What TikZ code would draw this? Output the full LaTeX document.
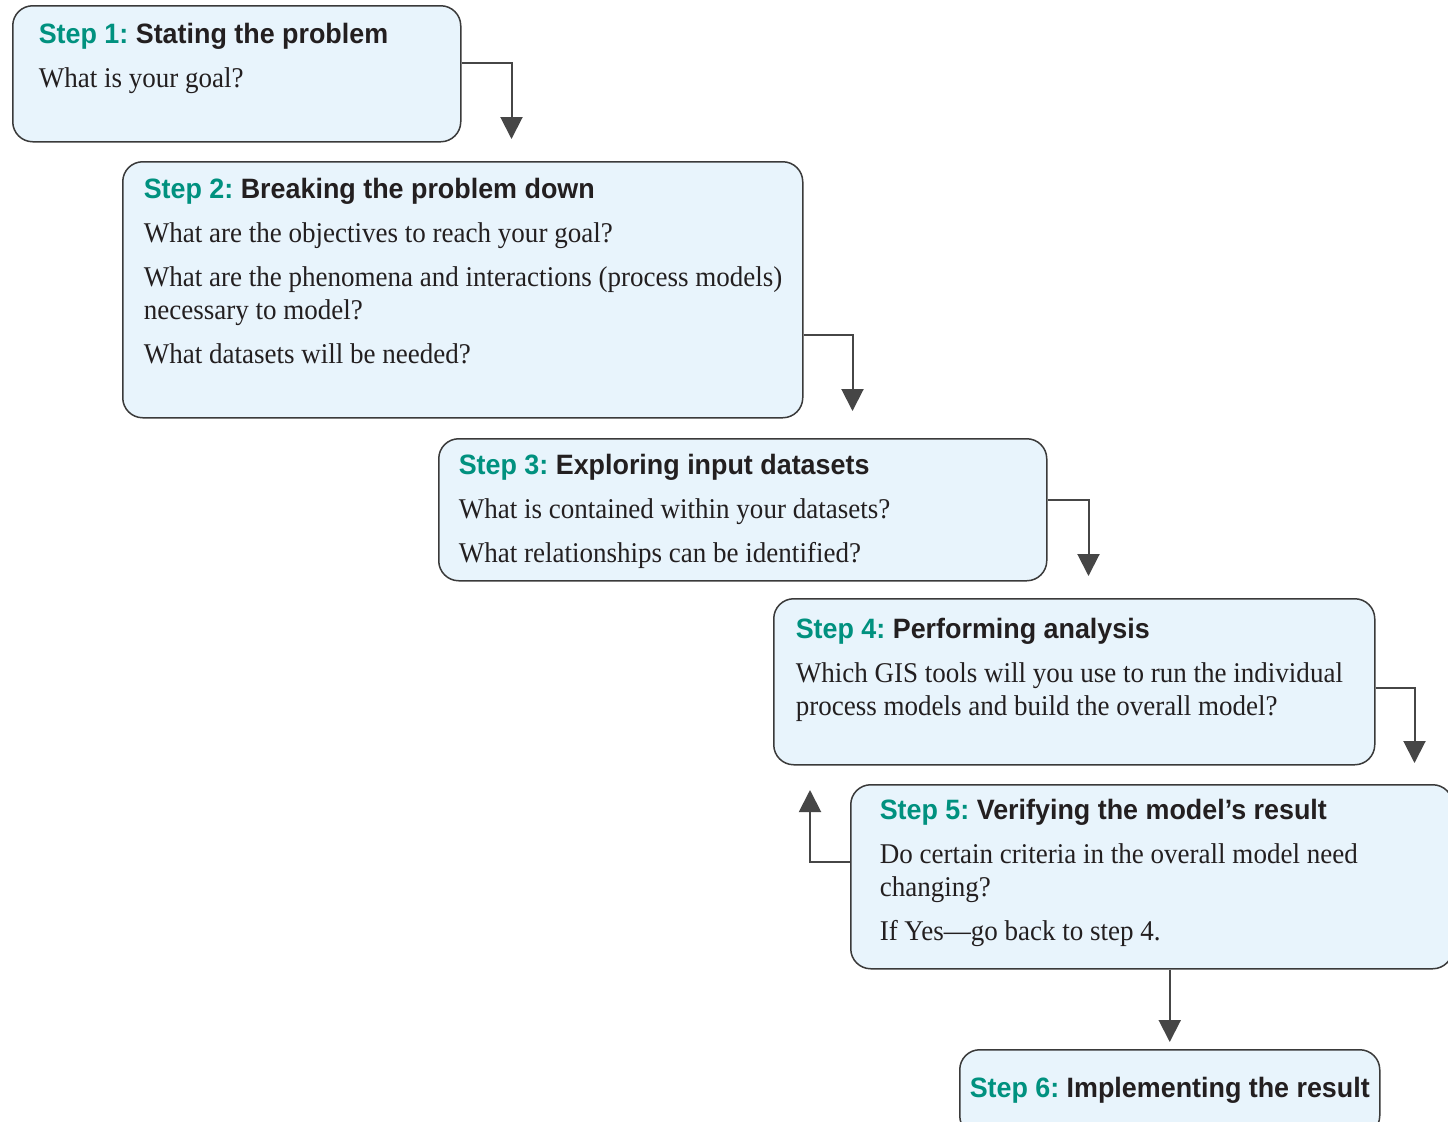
\documentclass[tikz,border=0pt]{standalone}
\usepackage{fontspec}
\setmainfont{Liberation Serif}[FakeStretch=0.945]
\setsansfont{Liberation Sans}[FakeStretch=0.96]
\usetikzlibrary{arrows.meta,calc}
\definecolor{ink}{HTML}{231F20}
\definecolor{edge}{HTML}{3A3A3A}
\definecolor{arrowc}{HTML}{464646}
\definecolor{stepc}{HTML}{00917F}
\definecolor{boxfill}{HTML}{E8F4FC}
\newcommand\stephead[2]{{\sffamily\bfseries\fontsize{14}{16.5}\selectfont\color{stepc}Step #1:~\color{ink}#2}}
\newcommand\steppar[3]{\parbox[t][#1][t]{#2}{\raggedright\setlength\parskip{5.5pt}#3}}
\tikzset{
  stepbox/.style={draw=edge,line width=.75pt,rounded corners=10pt,fill=boxfill,anchor=north west,inner xsep=11pt,inner ysep=3pt,font=\fontsize{14.3}{16.5}\selectfont,text=ink},
  flow/.style={draw=arrowc,line width=1pt,-{Triangle[length=11pt,width=11pt]}},
}
\begin{document}
\begin{tikzpicture}[x=0.5pt,y=-0.5pt]
  \path[use as bounding box,fill=white] (0,0) rectangle (1448,1121);

  \node[stepbox,inner xsep=13pt,inner ysep=3pt] (b1) at (12,5) {\steppar{62pt}{198pt}{\stephead{1}{Stating the problem}\par What is your goal?}};
  \node[stepbox,inner xsep=10.5pt,inner ysep=2.5pt] (b2) at (122,161) {\steppar{123pt}{319pt}{\stephead{2}{Breaking the problem down}\par What are the objectives to reach your goal?\par \mbox{What are the phenomena and interactions (process models)}\\necessary to model?\par What datasets will be needed?}};
  \node[stepbox,inner xsep=10pt,inner ysep=2pt] (b3) at (438,438) {\steppar{67pt}{284pt}{\stephead{3}{Exploring input datasets}\par What is contained within your datasets?\par What relationships can be identified?}};
  \node[stepbox,inner xsep=11pt,inner ysep=4pt] (b4) at (773,598) {\steppar{75pt}{278.5pt}{\stephead{4}{Performing analysis}\par Which GIS tools will you use to run the individual\\process models and build the overall model?}};
  \node[stepbox,inner xsep=14.5pt,inner ysep=1.5pt] (b5) at (850,784) {\steppar{89pt}{272pt}{\stephead{5}{Verifying the model’s result}\par Do certain criteria in the overall model need\\changing?\par If Yes---go back to step 4.}};
  \node[stepbox,inner xsep=5pt,inner ysep=8pt] (b6) at (959,1049) {\steppar{27pt}{200pt}{\stephead{6}{Implementing the result}}};

  \draw[flow,shorten >=11pt] ([yshift=-29pt]b1.north east) -- ++(25pt,0) coordinate (t1) -- (t1 |- b2.north);
  \draw[flow,shorten >=13.5pt] ([yshift=-87pt]b2.north east) -- ++(24.5pt,0) coordinate (t2) -- (t2 |- b3.north);
  \draw[flow,shorten >=11pt] ([yshift=-31pt]b3.north east) -- ++(20.5pt,0) coordinate (t3) -- (t3 |- b4.north);
  \draw[flow,shorten >=10.5pt] ([yshift=-45pt]b4.north east) -- ++(19.5pt,0) coordinate (t4) -- (t4 |- b5.north);
  \draw[flow] ([yshift=-39pt]b5.north west) -- ++(-20pt,0) -- ++(0,36pt);
  \draw[flow,shorten >=3.5pt] (b5.south -| b6.north) -- (b6.north);
\end{tikzpicture}
\end{document}
